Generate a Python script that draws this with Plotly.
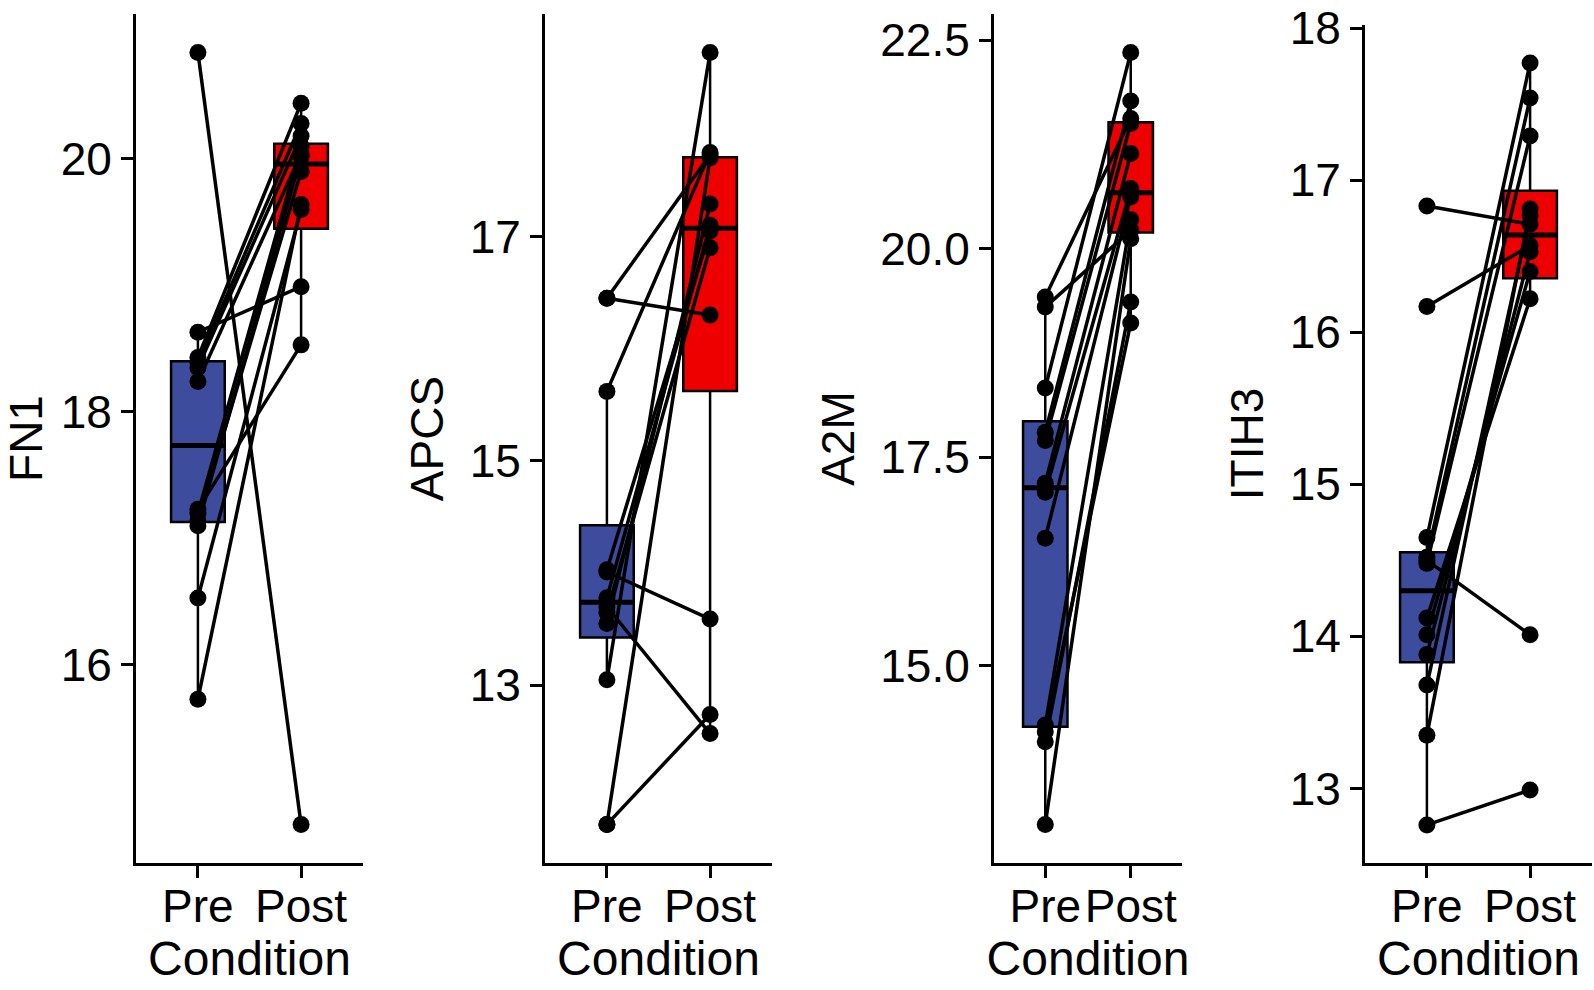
import numpy as np
import plotly.graph_objects as go

# ---------------- data ----------------
conditions = ["Pre", "Post"]
genes = ["FN1", "APCS", "A2M", "ITIH3"]

# paired samples: pre[i] is joined to post[i]
fn1_pre = [15.73, 16.53, 17.10, 17.14, 17.20, 17.23, 18.24, 18.35, 18.39, 18.43, 18.63, 20.84]
fn1_post = [19.64, 19.60, 20.02, 19.90, 20.10, 18.53, 20.04, 20.18, 20.28, 20.44, 18.99, 14.74]

apcs_pre = [11.76, 11.76, 13.05, 13.55, 13.65, 13.70, 13.78, 14.01, 14.03, 15.62, 16.45, 16.45]
apcs_post = [12.74, 17.70, 18.64, 17.29, 16.90, 12.57, 17.10, 13.59, 17.05, 17.75, 16.30, 17.73]

a2m_pre = [13.10, 14.09, 14.21, 14.29, 16.53, 17.08, 17.19, 17.70, 17.80, 18.33, 19.30, 19.42]
a2m_post = [20.12, 19.36, 19.11, 20.35, 20.62, 20.72, 21.14, 21.50, 21.77, 22.35, 20.22, 21.56]

itih3_pre = [12.76, 13.35, 13.68, 13.88, 14.01, 14.12, 14.48, 14.50, 14.52, 14.65, 16.17, 16.83]
itih3_post = [12.99, 16.81, 16.77, 16.53, 16.40, 16.22, 17.29, 14.01, 17.54, 17.77, 16.57, 16.71]

fn1_ticks = [16, 18, 20]
apcs_ticks = [13, 15, 17]
a2m_ticks = [15.0, 17.5, 20.0, 22.5]
itih3_ticks = [13, 14, 15, 16, 17, 18]

panels = [
    ("FN1", fn1_pre, fn1_post, fn1_ticks, "{:.0f}"),
    ("APCS", apcs_pre, apcs_post, apcs_ticks, "{:.0f}"),
    ("A2M", a2m_pre, a2m_post, a2m_ticks, "{:.1f}"),
    ("ITIH3", itih3_pre, itih3_post, itih3_ticks, "{:.0f}"),
]

# ---------------- styling ----------------
W, H = 1594, 990
FONT = "Liberation Sans, Arial, Helvetica, sans-serif"
FS_TICK = 46
FS_XT = 48
FS_YT = 46
PRE_COL = "#3D4C9C"
POST_COL = "#EE0000"
BOX_W = 0.52
x_px = [(136, 363), (545, 772), (994, 1182), (1365, 1592)]
y_top_px = [14, 14, 14, 25]
y_bot_px = 863


def box_stats(vals):
    v = np.asarray(vals, dtype=float)
    q1, med, q3 = np.percentile(v, [25, 50, 75])
    iqr = q3 - q1
    lo = v[v >= q1 - 1.5 * iqr].min()
    hi = v[v <= q3 + 1.5 * iqr].max()
    return q1, med, q3, lo, hi


fig = go.Figure()
layout = dict(
    width=W, height=H,
    margin=dict(l=0, r=0, t=0, b=0),
    paper_bgcolor="white", plot_bgcolor="white",
    showlegend=False,
    font=dict(family=FONT, size=FS_TICK, color="black"),
)

for i, (gene, pre, post, ticks, fmt) in enumerate(panels):
    k = "" if i == 0 else str(i + 1)
    xa, ya = "x" + k, "y" + k
    xpos = [1, 2]
    # boxes
    for xp, vals, col in zip(xpos, [pre, post], [PRE_COL, POST_COL]):
        q1, med, q3, lo, hi = box_stats(vals)
        fig.add_trace(go.Box(
            x=[xp], q1=[q1], median=[med], q3=[q3], lowerfence=[lo], upperfence=[hi],
            width=BOX_W, whiskerwidth=0, fillcolor=col,
            line=dict(color="black", width=2.5), boxpoints=False,
            xaxis=xa, yaxis=ya, hoverinfo="skip",
        ))
        fig.add_trace(go.Scatter(
            x=[xp - BOX_W / 2, xp + BOX_W / 2], y=[med, med], mode="lines",
            line=dict(color="black", width=5), xaxis=xa, yaxis=ya, hoverinfo="skip",
        ))
    # paired lines + points
    for a, b in zip(pre, post):
        fig.add_trace(go.Scatter(
            x=xpos, y=[a, b], mode="lines+markers",
            line=dict(color="black", width=3.5),
            marker=dict(color="black", size=17),
            xaxis=xa, yaxis=ya, hoverinfo="skip",
        ))
    allv = np.array(pre + post)
    span = allv.max() - allv.min()
    yr = [allv.min() - 0.05 * span, allv.max() + 0.05 * span]
    xd = [x_px[i][0] / W, x_px[i][1] / W]
    yd = [1 - y_bot_px / H, 1 - y_top_px[i] / H]
    layout["xaxis" + k] = dict(
        domain=xd, anchor=ya, range=[0.4, 2.6], automargin=False,
        tickvals=xpos, ticktext=conditions, tickangle=0,
        showline=True, linecolor="black", linewidth=3,
        ticks="outside", ticklen=12, tickwidth=3, tickcolor="black",
        showgrid=False, zeroline=False,
        ticklabelstandoff=-11,
        tickfont=dict(size=FS_TICK, color="black"),
        title=dict(text="Condition", font=dict(size=FS_XT, color="black"), standoff=10),
    )
    layout["yaxis" + k] = dict(
        domain=yd, anchor=xa, range=yr, automargin=False,
        tickvals=ticks, ticktext=[fmt.format(t) for t in ticks],
        showline=True, linecolor="black", linewidth=3,
        ticks="outside", ticklen=12, tickwidth=3, tickcolor="black",
        showgrid=False, zeroline=False,
        ticklabeloverflow="allow",
        tickfont=dict(size=FS_TICK, color="black"),
        title=dict(text=gene, font=dict(size=FS_YT, color="black"), standoff=12),
    )

fig.update_layout(**layout)
fig.write_html(
    "out.html",
    config={"displayModeBar": False},
    post_script="document.body.style.margin='0';document.body.style.overflow='hidden';",
)
